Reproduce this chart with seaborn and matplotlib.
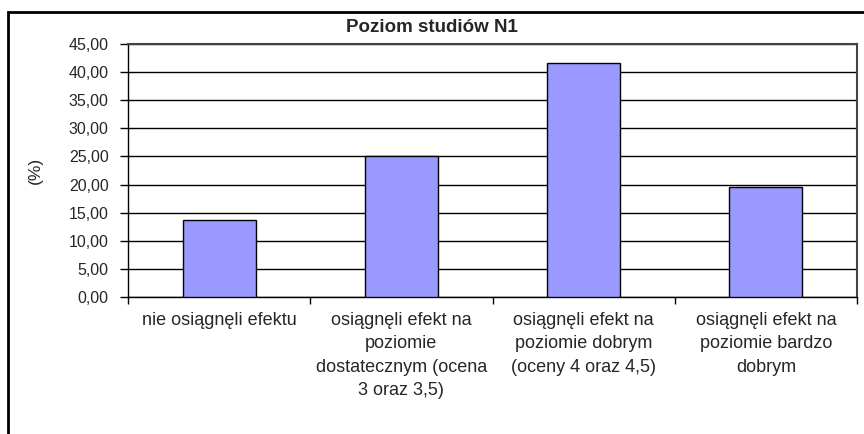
import matplotlib
matplotlib.use("Agg")
import matplotlib.pyplot as plt
from matplotlib.patches import Rectangle
import seaborn as sns
import pandas as pd

categories = [
    "nie osiągnęli efektu",
    "osiągnęli efekt na\npoziomie\ndostatecznym (ocena\n3 oraz 3,5)",
    "osiągnęli efekt na\npoziomie dobrym\n(oceny 4 oraz 4,5)",
    "osiągnęli efekt na\npoziomie bardzo\ndobrym",
]
values = [13.7, 25.1, 41.6, 19.6]
yticks = [0, 5, 10, 15, 20, 25, 30, 35, 40, 45]
ytick_labels = ["0,00", "5,00", "10,00", "15,00", "20,00", "25,00", "30,00", "35,00", "40,00", "45,00"]
title = "Poziom studiów N1"
ylabel = "(%)"

sns.set_theme(style="white")
plt.rcParams["font.family"] = ["Liberation Sans", "DejaVu Sans"]

df = pd.DataFrame({"cat": categories, "val": values})

fig = plt.figure(figsize=(8.64, 4.34), dpi=100)
ax = fig.add_axes([128 / 864, 1 - 296.7 / 434, (857 - 128) / 864, (296.7 - 44.3) / 434])

sns.barplot(data=df, x="cat", y="val", color="#9999FF", width=0.40,
            edgecolor="black", linewidth=1.0, saturation=1, ax=ax, zorder=3)

ax.set_ylim(0, 45)
ax.set_xlim(-0.5, 3.5)
ax.set_yticks(yticks)
ax.set_yticklabels(ytick_labels, fontsize=11.5)
ax.yaxis.grid(True, color="black", linewidth=1.0, zorder=0)
ax.set_axisbelow(True)

ax.set_xticks(range(len(categories)))
ax.set_xticklabels(categories, fontsize=13, linespacing=1.5, va="top")
ax.tick_params(axis="x", length=0, pad=11)
ax.set_xticks([-0.5, 0.5, 1.5, 2.5, 3.5], minor=True)
ax.tick_params(axis="x", which="minor", length=5, width=1, color="black", bottom=True)
ax.tick_params(axis="y", length=6, width=1, color="black", left=True, pad=8)

ax.set_xlabel("")
ax.set_ylabel(ylabel, fontsize=12.5, va="center")
ax.yaxis.set_label_coords(-(128 - 35) / 729, 0.5)

for s in ["left", "bottom"]:
    ax.spines[s].set_color("black")
    ax.spines[s].set_linewidth(1.0)
for s in ["top", "right"]:
    ax.spines[s].set_color("#444444")
    ax.spines[s].set_linewidth(1.5)

fig.text(431.5 / 864, 1 - 27.5 / 434, title, ha="center", va="center",
         fontsize=13.5, fontweight="bold")

fig.patches.append(Rectangle((8 / 864, -0.1), 1.2, 1 - 12 / 434 + 0.1,
                             transform=fig.transFigure, fill=False,
                             edgecolor="black", linewidth=2, zorder=10))

fig.savefig("out.png", dpi=100)
